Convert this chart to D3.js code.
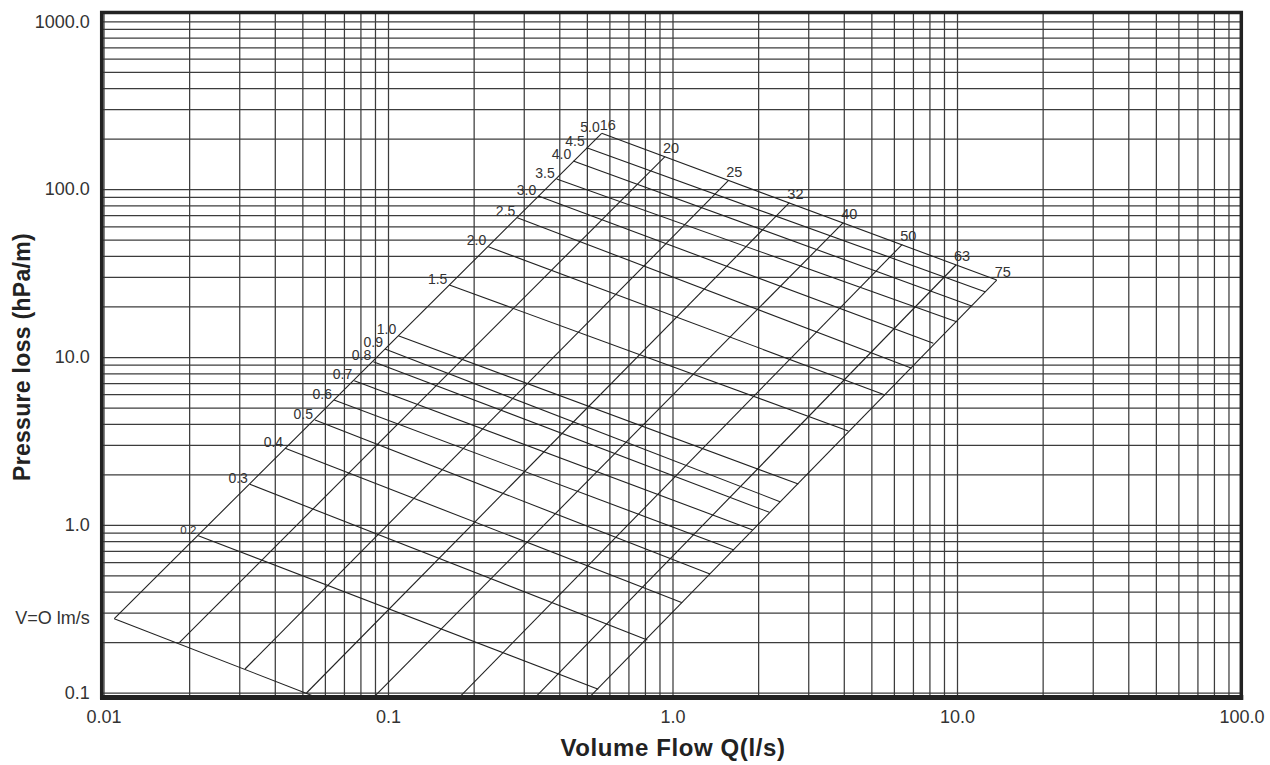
<!DOCTYPE html>
<html>
<head>
<meta charset="utf-8">
<script src="https://cdn.jsdelivr.net/npm/d3@7"></script>
<style>
  body { margin: 0; background: #fff; }
</style>
</head>
<body>
<div id="chart"></div>
<script>
// axis ticks
var xTickValues = [0.01, 0.1, 1, 10, 100];
var xTickLabels = ["0.01", "0.1", "1.0", "10.0", "100.0"];
var yTickValues = [0.1, 1, 10, 100, 1000];
var yTickLabels = ["0.1", "1.0", "10.0", "100.0", "1000.0"];

// pipe sizes (mm): low end on the v=0.1 line (or where it leaves the chart), top end on the v=5.0 line
var pipeSizes = [16, 20, 25, 32, 40, 50, 63, 75];
var pipeLowQ  = [0.01091, 0.01847, 0.03143, 0.05169, 0.08949, 0.1791, 0.3313, 0.5129];
var pipeLowP  = [0.276, 0.1986, 0.1384, 0.0996, 0.0947, 0.0947, 0.0947, 0.0947];
var pipeTopQ  = [0.5638, 0.9410, 1.571, 2.574, 3.984, 6.423, 9.92, 13.79];
var pipeTopP  = [215.2, 156.1, 112.3, 83.05, 63.1, 46.93, 35.33, 28.75];

// velocities (m/s): left end on the 16 line, right end on the 75 line
var velocities = [0.1, 0.2, 0.3, 0.4, 0.5, 0.6, 0.7, 0.8, 0.9, 1.0, 1.5, 2.0, 2.5, 3.0, 3.5, 4.0, 4.5, 5.0];
var velLabels  = ["V=O lm/s", "0.2", "0.3", "0.4", "0.5", "0.6", "0.7", "0.8", "0.9", "1.0",
                  "1.5", "2.0", "2.5", "3.0", "3.5", "4.0", "4.5", "5.0"];
var velLeftQ  = [0.01091, 0.02154, 0.0327, 0.0435, 0.0554, 0.0646, 0.0761, 0.0888, 0.0976,
                 0.1087, 0.1643, 0.2252, 0.2848, 0.3375, 0.3917, 0.4480, 0.4994, 0.5638];
var velLeftP  = [0.276, 0.862, 1.744, 2.858, 4.21, 5.54, 7.225, 9.38, 11.16,
                 13.40, 26.85, 45.4, 67.6, 91.0, 114.9, 147.2, 176.6, 215.2];
var velRightQ = [0.0554, 0.5485, 0.8155, 1.082, 1.354, 1.645, 1.914, 2.189, 2.387,
                 2.768, 4.149, 5.583, 6.93, 8.256, 9.97, 11.26, 12.54, 13.79];
var velRightP = [0.0947, 0.1048, 0.2061, 0.3438, 0.5096, 0.708, 0.932, 1.188, 1.374,
                 1.751, 3.624, 5.936, 8.566, 12.07, 16.23, 20.13, 24.49, 28.75];

var W = 1270, H = 765;
var frame = {left: 101.7, right: 1241.3, top: 12.5, bottom: 697.5};

var x = d3.scaleLog().domain([0.01, 100]).range([103.5, 1241.5]);
var y = d3.scaleLog().domain([0.1, 1000]).range([692.7, 21.3]);

var svg = d3.select("#chart")
  .append("svg")
    .attr("width", W)
    .attr("height", H)
    .style("font-family", "'Liberation Sans', Arial, sans-serif");

// grid lines
var gx = svg.append("g")
    .attr("transform", "translate(0," + frame.bottom + ")")
    .call(d3.axisBottom(x).tickValues(x.ticks()).tickSize(-(frame.bottom - frame.top)).tickFormat(""));
var gy = svg.append("g")
    .attr("transform", "translate(" + frame.left + ",0)")
    .call(d3.axisLeft(y).tickValues(y.ticks()).tickSize(-(frame.right - frame.left)).tickFormat(""));
[gx, gy].forEach(function(g) {
  g.select(".domain").remove();
  g.selectAll(".tick line").attr("stroke", "#3c3c3c").attr("stroke-width", 1.25);
});

// nomogram lines
svg.append("clipPath").attr("id", "plotclip")
  .append("rect")
    .attr("x", frame.left).attr("y", frame.top)
    .attr("width", frame.right - frame.left)
    .attr("height", frame.bottom - frame.top);

var nomo = svg.append("g").attr("clip-path", "url(#plotclip)");

nomo.selectAll(".pipe")
  .data(pipeSizes)
  .enter().append("line")
    .attr("class", "pipe")
    .attr("x1", function(d, i) { return x(pipeLowQ[i]); })
    .attr("y1", function(d, i) { return y(pipeLowP[i]); })
    .attr("x2", function(d, i) { return x(pipeTopQ[i]); })
    .attr("y2", function(d, i) { return y(pipeTopP[i]); })
    .attr("stroke", "#222")
    .attr("stroke-width", 1.1);

nomo.selectAll(".vel")
  .data(velocities)
  .enter().append("line")
    .attr("class", "vel")
    .attr("x1", function(d, i) { return x(velLeftQ[i]); })
    .attr("y1", function(d, i) { return y(velLeftP[i]); })
    .attr("x2", function(d, i) { return x(velRightQ[i]); })
    .attr("y2", function(d, i) { return y(velRightP[i]); })
    .attr("stroke", "#222")
    .attr("stroke-width", 1.1);

// frame
svg.append("rect")
    .attr("x", frame.left).attr("y", frame.top)
    .attr("width", frame.right - frame.left)
    .attr("height", frame.bottom - frame.top)
    .attr("fill", "none")
    .attr("stroke", "#222")
    .attr("stroke-width", 3.5);
svg.append("line")
    .attr("x1", frame.left - 1.7).attr("x2", frame.right + 2)
    .attr("y1", frame.bottom).attr("y2", frame.bottom)
    .attr("stroke", "#222")
    .attr("stroke-width", 5);

// line labels
svg.selectAll(".vlabel")
  .data(velocities.slice(1))
  .enter().append("text")
    .attr("class", "vlabel")
    .attr("x", function(d, i) { return x(velLeftQ[i + 1]) - 2; })
    .attr("y", function(d, i) { return y(velLeftP[i + 1]) - 1.5; })
    .attr("text-anchor", "end")
    .attr("font-size", function(d) { return d === 0.2 ? 11.5 : 14; })
    .attr("fill", "#333")
    .text(function(d, i) { return velLabels[i + 1]; });

svg.selectAll(".plabel")
  .data(pipeSizes)
  .enter().append("text")
    .attr("class", "plabel")
    .attr("x", function(d, i) { return x(pipeTopQ[i]) - 2; })
    .attr("y", function(d, i) { return y(pipeTopP[i]) - 3.5; })
    .attr("font-size", 14.5)
    .attr("fill", "#333")
    .text(function(d) { return d; });

// axes labels
var ax = svg.append("g")
    .attr("transform", "translate(0," + frame.bottom + ")")
    .call(d3.axisBottom(x).tickValues(xTickValues).tickSize(0).tickPadding(13)
      .tickFormat(function(d, i) { return xTickLabels[i]; }));
var ay = svg.append("g")
    .attr("transform", "translate(" + frame.left + ",0)")
    .call(d3.axisLeft(y).tickValues(yTickValues).tickSize(0).tickPadding(12)
      .tickFormat(function(d, i) { return yTickLabels[i]; }));
[ax, ay].forEach(function(g) {
  g.select(".domain").remove();
  g.selectAll("text")
    .attr("font-size", 18)
    .attr("font-family", "'Liberation Sans', Arial, sans-serif")
    .attr("fill", "#333");
});

// v = 0.1 line label next to the y axis
svg.append("text")
    .attr("x", frame.left - 12)
    .attr("y", y(velLeftP[0]))
    .attr("dy", "0.32em")
    .attr("text-anchor", "end")
    .attr("font-size", 18)
    .attr("fill", "#333")
    .text(velLabels[0]);

// titles
svg.append("text")
    .attr("x", 673)
    .attr("y", 756)
    .attr("text-anchor", "middle")
    .attr("font-size", 24)
    .attr("font-weight", "bold")
    .attr("letter-spacing", 0.6)
    .attr("fill", "#222")
    .text("Volume Flow Q(l/s)");

svg.append("text")
    .attr("transform", "translate(29.5,357) rotate(-90)")
    .attr("text-anchor", "middle")
    .attr("font-size", 23)
    .attr("font-weight", "bold")
    .attr("letter-spacing", 0.3)
    .attr("fill", "#222")
    .text("Pressure loss (hPa/m)");
</script>
</body>
</html>
